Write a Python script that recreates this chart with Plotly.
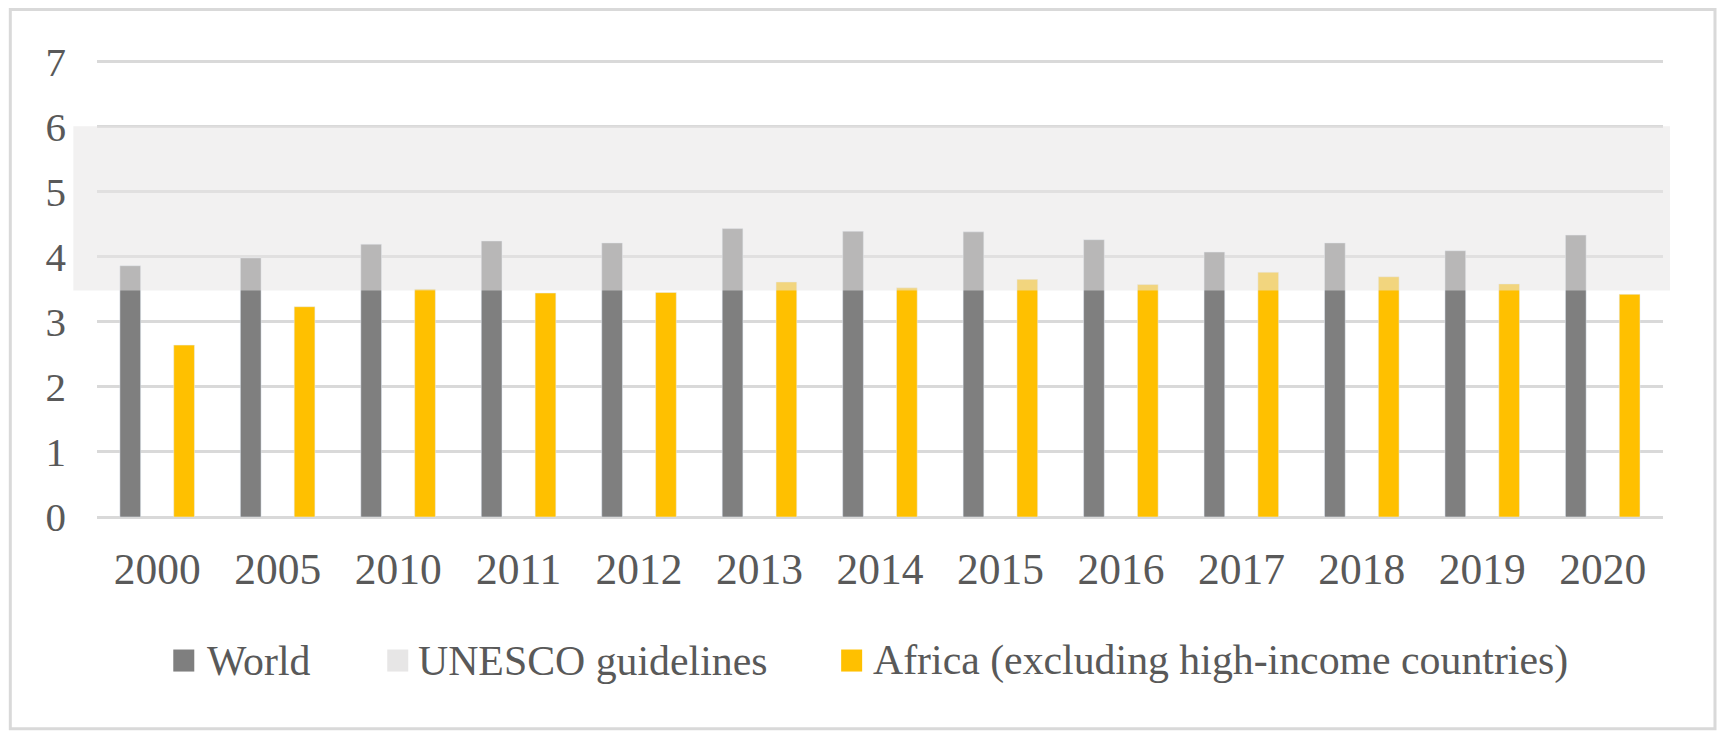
import plotly.graph_objects as go

# ---- data ----
years = ["2000", "2005", "2010", "2011", "2012", "2013", "2014",
         "2015", "2016", "2017", "2018", "2019", "2020"]
world = [3.86, 3.98, 4.19, 4.24, 4.21, 4.43, 4.39, 4.38, 4.26, 4.07, 4.21, 4.09, 4.33]
africa = [2.64, 3.23, 3.50, 3.44, 3.45, 3.61, 3.52, 3.65, 3.57, 3.76, 3.69, 3.58, 3.42]
unesco_low = 3.48
unesco_high = 6.0
series_names = ["World", "UNESCO guidelines", "Africa (excluding high-income countries)"]
y_ticks = [0, 1, 2, 3, 4, 5, 6, 7]
y_max = 7.05

# ---- style ----
FW, FH = 1726, 738
ZERO_PX = 516.7        # pixel row of the zero line
UNIT_PX = 65.0         # pixels per unit on the y axis
L, R = 96.7, 63
B = FH - ZERO_PX
T = ZERO_PX - y_max * UNIT_PX
W = FW - L - R
H = FH - T - B
TEXT = "#595959"
GRID = "#d9d9d9"
C_WORLD = "#7f7f7f"
C_UNESCO = "#e7e6e6"
C_AFRICA = "#ffc000"
FONT = "Liberation Serif"


def px(x):
    return (x - L) / W


def py(y):
    return (FH - B - y) / H


fig = go.Figure()
fig.add_trace(go.Bar(x=years, y=world, name=series_names[0], marker_color=C_WORLD,
                     width=0.172, offset=-0.31, showlegend=False))
fig.add_trace(go.Bar(x=years, y=africa, name=series_names[2], marker_color=C_AFRICA,
                     width=0.172, offset=0.137, showlegend=False))

shapes = []
# UNESCO guideline band, semi-transparent above the bars
shapes.append(dict(type="rect", xref="paper", yref="y", x0=px(73), x1=px(1670),
                   y0=unesco_low, y1=unesco_high, layer="above",
                   fillcolor="rgba(231,230,230,0.55)", line=dict(width=0)))
# chart border
shapes.append(dict(type="rect", xref="paper", yref="paper", x0=px(10), x1=px(1715),
                   y0=py(728), y1=py(10), line=dict(color=GRID, width=3),
                   fillcolor="rgba(0,0,0,0)", layer="below"))

# custom legend
annotations = []
legend_items = [
    (series_names[0], C_WORLD, 173, 205),
    (series_names[1], C_UNESCO, 387, 416),
    (series_names[2], C_AFRICA, 841, 871),
]
for name, col, sx, tx in legend_items:
    shapes.append(dict(type="rect", xref="paper", yref="paper", x0=px(sx), x1=px(sx + 21),
                       y0=py(671), y1=py(649), fillcolor=col, line=dict(width=0)))
    annotations.append(dict(text=name, xref="paper", yref="paper", x=px(tx), y=py(660),
                            xanchor="left", yanchor="middle", showarrow=False,
                            font=dict(family=FONT, size=41.8, color=TEXT)))

fig.update_layout(
    width=FW, height=FH,
    margin=dict(l=L, r=R, t=T, b=B, autoexpand=False),
    paper_bgcolor="white", plot_bgcolor="white",
    showlegend=False,
    shapes=shapes, annotations=annotations,
    font=dict(family=FONT, color=TEXT),
)
fig.update_xaxes(showgrid=False, showline=False, ticks="", zeroline=False,
                 tickfont=dict(family=FONT, size=43.5, color=TEXT),
                 ticklabelstandoff=22)
fig.update_yaxes(range=[0, y_max], tickvals=y_ticks, showgrid=True, gridcolor=GRID, gridwidth=3,
                 zeroline=True, zerolinecolor=GRID, zerolinewidth=3, showline=False,
                 ticks="", tickfont=dict(family=FONT, size=41, color=TEXT),
                 ticklabelstandoff=30)

fig.write_html("out.html", config={"displayModeBar": False},
               post_script="document.body.style.margin='0';document.body.style.overflow='hidden';")
